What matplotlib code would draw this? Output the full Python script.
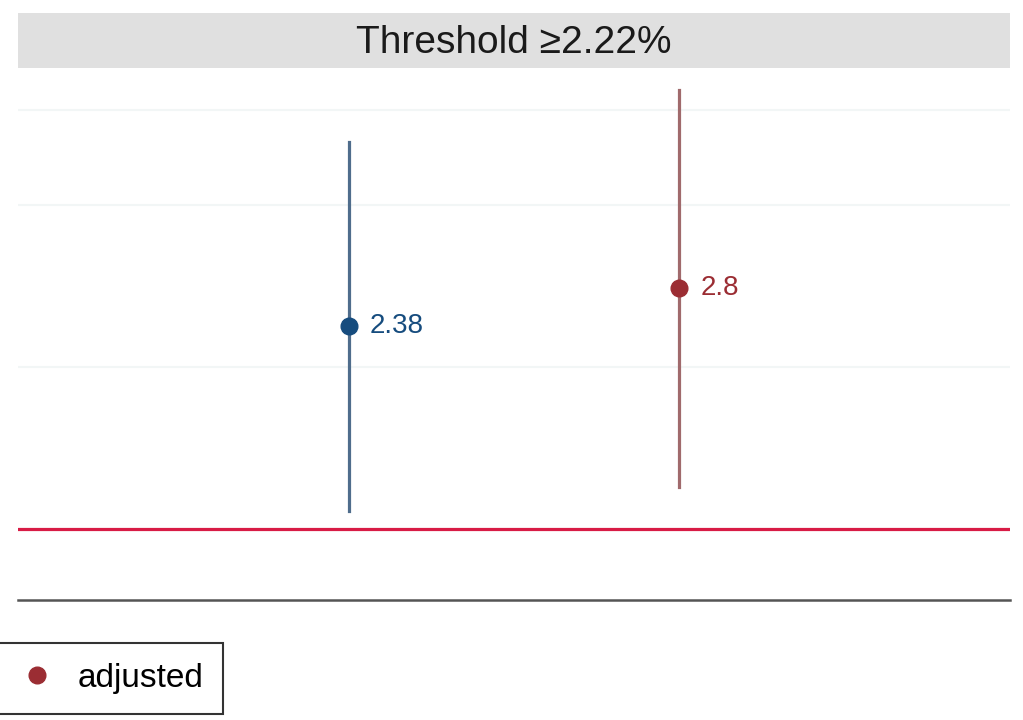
import matplotlib.pyplot as plt
from matplotlib.lines import Line2D

plt.rcParams['font.family'] = ['Liberation Sans', 'DejaVu Sans']

# estimates and confidence intervals (log scale)
positions = [1, 2]
estimates = [2.38, 2.8]
lower = [1.08, 1.20]
upper = [5.23, 6.53]
labels = ["2.38", "2.8"]
point_colors = ["#164c7e", "#9b2d33"]
bar_colors = ["#4f6d8c", "#a06a6c"]
ref_value = 1
grid_values = [2, 4, 6]
title = "Threshold \u22652.22%"

fig = plt.figure(figsize=(10.23, 7.2), dpi=100)
W, H = 1023, 720
ax = fig.add_axes([18 / W, (H - 600) / H, 992 / W, 530 / H])

ax.set_yscale("log")
ax.set_xlim(0, 3)
ax.set_ylim(0.74, 7.11)

for x, est, lo, hi, lab, pc, bc in zip(positions, estimates, lower, upper,
                                       labels, point_colors, bar_colors):
    ax.plot([x, x], [lo, hi], color=bc, lw=2.3, zorder=2)
    ax.plot(x, est, "o", color=pc, markersize=12, zorder=3)
    ax.annotate(lab, (x, est), xytext=(15, 0), textcoords="offset points",
                ha="left", va="center", fontsize=20, color=pc)

ax.axhline(ref_value, color="#d81b45", lw=2.3, zorder=1)

ax.set_yticks(grid_values)
ax.set_yticks([], minor=True)
ax.set_xticks([])
ax.tick_params(axis="y", length=0, labelleft=False)
ax.grid(axis="y", color="#f2f6f6", lw=1.5)
ax.set_axisbelow(True)
for s in ["top", "left", "right"]:
    ax.spines[s].set_visible(False)
ax.spines["bottom"].set_color("#555555")
ax.spines["bottom"].set_linewidth(1.8)

# facet strip
strip = fig.add_axes([18 / W, (H - 68) / H, 992 / W, 55 / H])
strip.set_facecolor("#e0e0e0")
strip.set_xticks([])
strip.set_yticks([])
for s in strip.spines.values():
    s.set_visible(False)
strip.text(0.5, 0.45, title, ha="center", va="center", fontsize=28,
           color="#1a1a1a", transform=strip.transAxes)

handle = Line2D([], [], marker="o", ls="", color=point_colors[1], markersize=12)
leg = fig.legend([handle], ["adjusted"], loc="upper left",
                 bbox_to_anchor=(-0.0074, (H - 643) / H), fontsize=24,
                 frameon=True, fancybox=False, edgecolor="black",
                 handlelength=1.5, handletextpad=0.45, borderpad=0.6,
                 borderaxespad=0)
leg.get_frame().set_linewidth(1.5)

fig.savefig("out.png", dpi=100)
